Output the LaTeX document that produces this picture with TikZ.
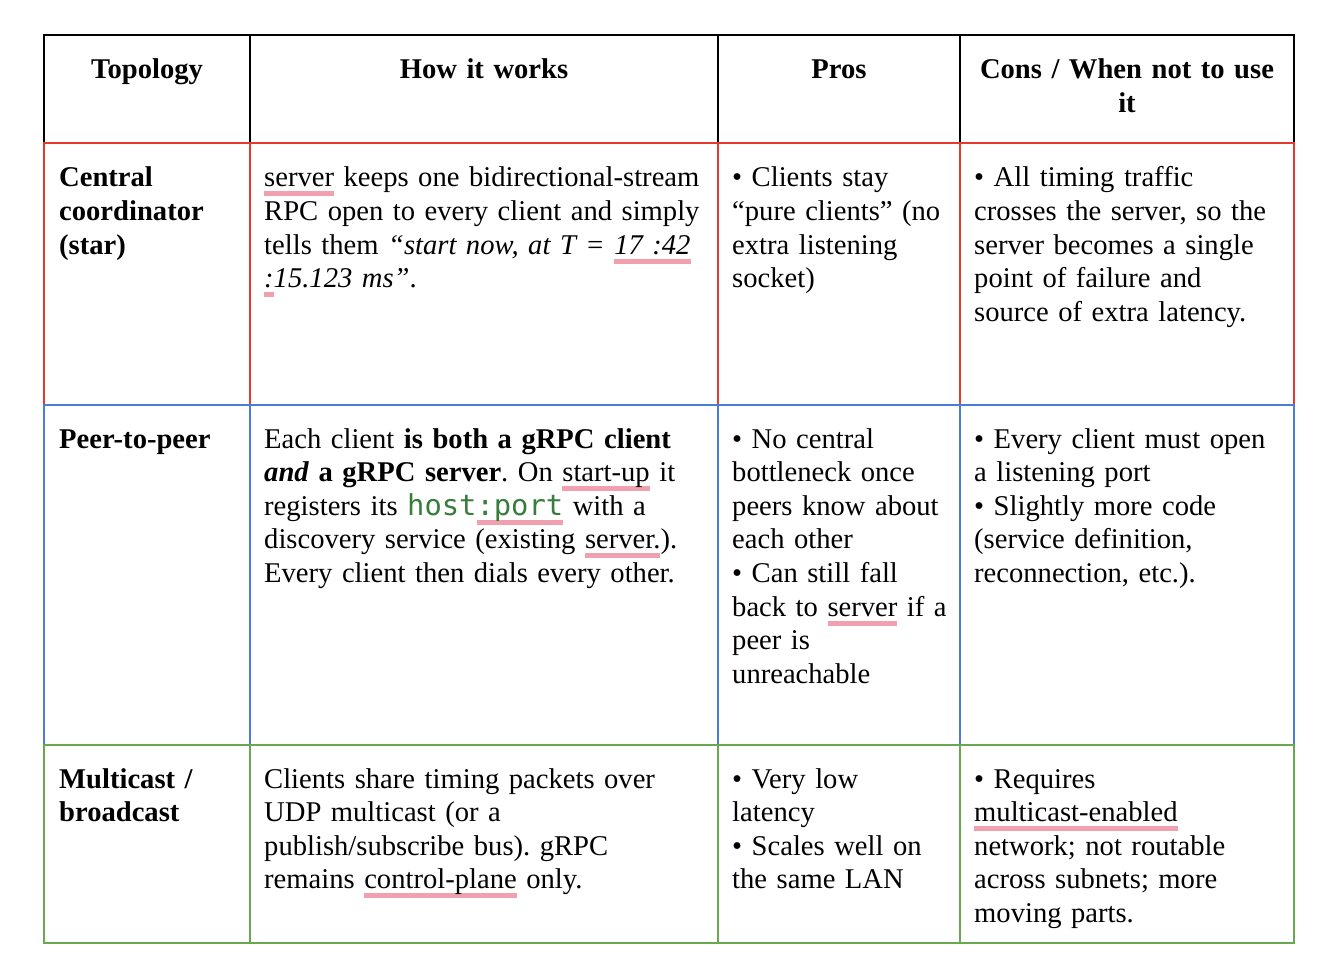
\documentclass[tikz,border=0pt]{standalone}
\usepackage{fontspec}
\setmainfont{Liberation Serif}
\newfontfamily\monof{DejaVu Sans Mono}
\definecolor{rowred}{RGB}{229,57,46}
\definecolor{rowblue}{RGB}{74,125,216}
\definecolor{rowgreen}{RGB}{106,168,79}
\definecolor{ulpink}{RGB}{240,160,174}
\definecolor{codegreen}{RGB}{56,125,60}
\newcommand\bodyfont{\fontsize{28.6}{33.6}\selectfont\frenchspacing}
\newcommand\pul[1]{\leavevmode\setbox0=\hbox{#1}\rlap{\color{ulpink}\rule[-9.5pt]{\wd0}{5pt}}\box0\relax}
\newcommand\codetxt[1]{{\monof\fontsize{28.8}{33.6}\selectfont\color{codegreen}#1}}
\tikzset{
  cell/.style={anchor=base west, inner sep=0pt, text width=#1, align=left, font=\bodyfont},
  cell/.default=460pt,
  headcell/.style={anchor=base, inner sep=0pt, text width=#1, align=center, font=\bodyfont\bfseries},
  rule/.style={line width=1.6pt},
}
\begin{document}
\begin{tikzpicture}[x=1pt,y=-1pt]
\useasboundingbox[fill=white] (0,0) rectangle (1334,960);
% header borders
\draw[rule,black] (44,35) rectangle (1294,143);
\draw[rule,black] (250,35) -- (250,143) (718,35) -- (718,143) (960,35) -- (960,143);
% row 1
\draw[rule,rowred] (44,143) rectangle (1294,405);
\draw[rule,rowred] (250,143) -- (250,405) (718,143) -- (718,405) (960,143) -- (960,405);
% row 2
\draw[rule,rowblue] (44,405) rectangle (1294,745);
\draw[rule,rowblue] (250,405) -- (250,745) (718,405) -- (718,745) (960,405) -- (960,745);
% row 3
\draw[rule,rowgreen] (44,745) rectangle (1294,943);
\draw[rule,rowgreen] (250,745) -- (250,943) (718,745) -- (718,943) (960,745) -- (960,943);

% header
\node[headcell=200pt] (h1) at (147,79) {Topology};
\node[headcell=460pt] (h2) at (484,79) {How it works};
\node[headcell=236pt] (h3) at (839,79) {Pros};
\node[headcell=330pt] (h4) at (1127,79) {Cons / When not to use\\it};

% row 1
\node[cell=190pt, font=\bodyfont\bfseries] (a1) at (59,187) {Central\\coordinator\\(star)};
\node[cell] (a2) at (264,187) {\pul{server} keeps one bidirectional-stream\\RPC open to every client and simply\\tells them \textit{“start now, at T = \pul{17 :42}}\\\textit{\pul{:}15.123 ms”}.};
\node[cell=230pt] (a3) at (732,187) {• Clients stay\\“pure clients” (no\\extra listening\\socket)};
\node[cell=320pt] (a4) at (974,187) {• All timing traffic\\crosses the server, so the\\server becomes a single\\point of failure and\\source of extra latency.};

% row 2
\node[cell=190pt, font=\bodyfont\bfseries] (b1) at (59,448) {Peer-to-peer};
\node[cell] (b2) at (264,448) {Each client \textbf{is both a gRPC client}\\\textbf{\textit{and} a gRPC server}. On \pul{start-up} it\\registers its \codetxt{host\pul{:port}} with a\\discovery service (existing \pul{server.}).\\Every client then dials every other.};
\node[cell=230pt] (b3) at (732,448) {• No central\\bottleneck once\\peers know about\\each other\\• Can still fall\\back to \pul{server} if a\\peer is\\unreachable};
\node[cell=320pt] (b4) at (974,448) {• Every client must open\\a listening port\\• Slightly more code\\(service definition,\\reconnection, etc.).};

% row 3
\node[cell=190pt, font=\bodyfont\bfseries] (c1) at (59,788) {Multicast /\\broadcast};
\node[cell] (c2) at (264,788) {Clients share timing packets over\\UDP multicast (or a\\publish/subscribe bus). gRPC\\remains \pul{control-plane} only.};
\node[cell=230pt] (c3) at (732,788) {• Very low\\latency\\• Scales well on\\the same LAN};
\node[cell=320pt] (c4) at (974,788) {• Requires\\\pul{multicast-enabled}\\network; not routable\\across subnets; more\\moving parts.};
\end{tikzpicture}
\end{document}
